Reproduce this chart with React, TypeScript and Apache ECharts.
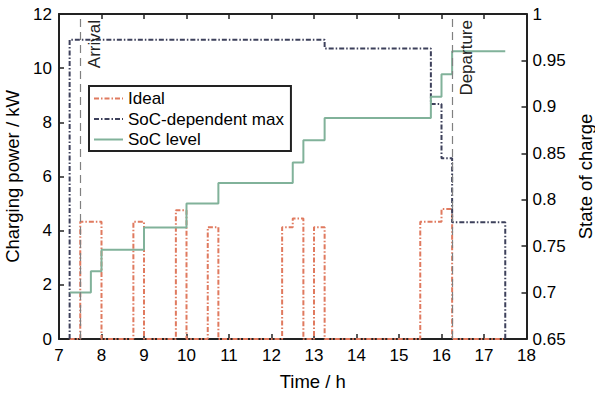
import React, { useEffect, useRef } from "react";
import * as echarts from "echarts";

// Ideal charging power (kW), step values holding from each time until the next
const idealTimes = [7.25, 7.5, 8, 8.75, 9, 9.75, 10, 10.5, 10.75, 12.25, 12.5, 12.75, 13, 13.25, 15.5, 16, 16.25, 17.5];
const idealValues = [0, 4.33, 0, 4.33, 0, 4.75, 0, 4.13, 0, 4.13, 4.45, 0, 4.13, 0, 4.33, 4.8, 0, 0];

// SoC-dependent maximum charging power (kW)
const maxTimes = [7.25, 7.25, 13.25, 15.75, 16, 16.25, 17.5, 17.5];
const maxValues = [0, 11.05, 10.73, 8.68, 6.67, 4.31, 0, 0];

// State of charge level
const socTimes = [7.25, 7.75, 8, 9, 10, 10.75, 12.5, 12.75, 13.25, 15.75, 16, 16.25, 17.5];
const socValues = [0.7, 0.723, 0.746, 0.77, 0.796, 0.818, 0.84, 0.864, 0.888, 0.911, 0.935, 0.96, 0.96];

// Event markers
const eventTimes = [7.5, 16.25];
const eventLabels = ["Arrival", "Departure"];

const FONT = "Liberation Sans, Arial, Helvetica, sans-serif";
const INK = "#222222";

function pairs(xs: number[], ys: number[]) {
  return xs.map((x, i) => [x, ys[i]]);
}

export default function App() {
  const ref = useRef<HTMLDivElement>(null);
  useEffect(() => {
    if (!ref.current) return;
    const chart = echarts.init(ref.current, undefined, { renderer: "svg" });
    const axisLine = { show: true, lineStyle: { color: INK, width: 2 } };
    const axisTick = { show: true, inside: true, length: 5, lineStyle: { color: INK, width: 1.5 } };
    const nameStyle = { fontSize: 18.5, color: "#000", fontFamily: FONT, fontWeight: "normal" };
    const labelStyle = { fontSize: 17, color: "#000", fontFamily: FONT, fontWeight: "normal" };
    chart.setOption({
      animation: false,
      textStyle: { fontFamily: FONT },
      grid: { left: 59, right: 68.5, top: 14, bottom: 57, containLabel: false, outerBoundsMode: "none" },
      legend: {
        orient: "vertical",
        left: 89,
        top: 86,
        backgroundColor: "#fff",
        borderColor: INK,
        borderWidth: 2,
        borderRadius: 0,
        padding: [4, 7, 3, 4],
        itemWidth: 29,
        itemHeight: 12,
        itemGap: 3.5,
        itemStyle: { opacity: 0 },
        textStyle: { fontSize: 17, color: "#000", fontFamily: FONT },
        data: ["Ideal", "SoC-dependent max", "SoC level"],
      },
      xAxis: [
        {
          type: "value",
          position: "bottom",
          min: 7,
          max: 18,
          interval: 1,
          axisLine,
          axisTick,
          splitLine: { show: false },
          axisLabel: { ...labelStyle, margin: 8 },
          name: "Time / h",
          nameLocation: "middle",
          nameGap: 33,
          nameTextStyle: { ...nameStyle, padding: [0, 0, 0, 40] },
        },
        {
          type: "value",
          position: "top",
          min: 7,
          max: 18,
          interval: 1,
          axisLine,
          axisTick,
          splitLine: { show: false },
          axisLabel: { show: false },
        },
      ],
      yAxis: [
        {
          type: "value",
          position: "left",
          min: 0,
          max: 12,
          interval: 2,
          axisLine,
          axisTick,
          splitLine: { show: false },
          axisLabel: { ...labelStyle, margin: 7 },
          name: "Charging power / kW",
          nameLocation: "middle",
          nameRotate: 90,
          nameGap: 30,
          nameTextStyle: nameStyle,
        },
        {
          type: "value",
          position: "right",
          min: 0.65,
          max: 1,
          interval: 0.05,
          axisLine,
          axisTick,
          splitLine: { show: false },
          axisLabel: { ...labelStyle, margin: 6 },
          name: "State of charge",
          nameLocation: "middle",
          nameRotate: 90,
          nameGap: 48,
          nameTextStyle: nameStyle,
        },
      ],
      series: [
        {
          name: "Events",
          type: "line",
          xAxisIndex: 0,
          yAxisIndex: 0,
          data: [],
          silent: true,
          markLine: {
            silent: true,
            symbol: ["none", "none"],
            lineStyle: { color: "#808080", type: [8, 5], width: 1.2 },
            label: {
              show: true,
              position: "insideEndBottom",
              fontSize: 17,
              color: "#222",
              fontFamily: FONT,
              distance: 6,
            },
            data: eventTimes.map((t, i) => ({
              xAxis: t,
              label: { formatter: eventLabels[i] },
            })),
          },
        },
        {
          name: "Ideal",
          type: "line",
          step: "end",
          xAxisIndex: 0,
          yAxisIndex: 0,
          symbol: "none",
          data: pairs(idealTimes, idealValues),
          lineStyle: { color: "#E07A5F", width: 2, type: [5, 2, 1.5, 2] },
          itemStyle: { color: "#E07A5F" },
        },
        {
          name: "SoC-dependent max",
          type: "line",
          step: "end",
          xAxisIndex: 0,
          yAxisIndex: 0,
          symbol: "none",
          data: pairs(maxTimes, maxValues),
          lineStyle: { color: "#3D405B", width: 2, type: [5, 2, 1.5, 2] },
          itemStyle: { color: "#3D405B" },
        },
        {
          name: "SoC level",
          type: "line",
          step: "end",
          xAxisIndex: 0,
          yAxisIndex: 1,
          symbol: "none",
          data: pairs(socTimes, socValues),
          lineStyle: { color: "#81B29A", width: 2 },
          itemStyle: { color: "#81B29A" },
        },
      ],
    });
    return () => chart.dispose();
  }, []);
  return <div ref={ref} style={{ width: 595, height: 396, position: "absolute", left: 0, top: 0 }} />;
}
